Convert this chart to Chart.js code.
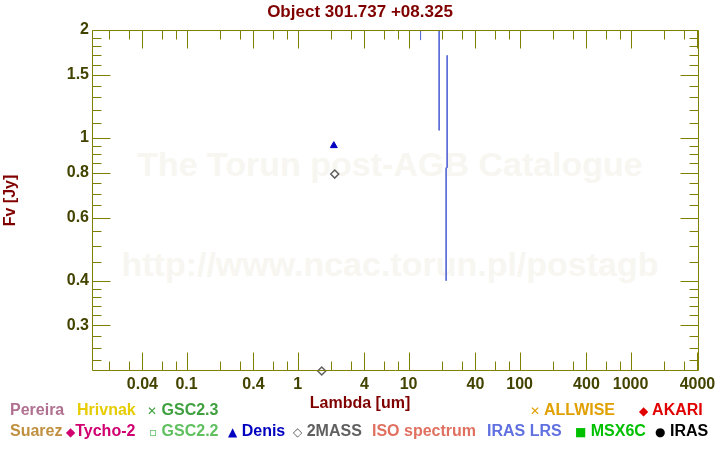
<!DOCTYPE html>
<html><head><meta charset="utf-8">
<script src="https://cdn.jsdelivr.net/npm/chart.js@4.4.0/dist/chart.umd.min.js"></script>
<style>
html,body{margin:0;padding:0;background:#fff;}
#wrap{position:relative;width:720px;height:450px;overflow:hidden;font-family:"Liberation Sans",Arial,sans-serif;font-weight:bold;}
#c{position:absolute;left:0;top:0;z-index:2;}
.wm{position:absolute;left:0;width:780px;text-align:center;z-index:1;color:#f8f6f1;font-size:34px;line-height:34px;white-space:nowrap;}
.lg{position:absolute;z-index:3;font-size:16px;line-height:16px;white-space:nowrap;}
.sym{font-family:"DejaVu Sans",sans-serif;font-size:12px;}
#xt{position:absolute;left:0;width:720px;text-align:center;top:394px;z-index:3;color:#800000;font-size:16px;line-height:18px;}
</style></head>
<body><div id="wrap">
<div class="wm" style="top:147px">The Torun post-AGB Catalogue</div>
<div class="wm" style="top:247px">http://www.ncac.torun.pl/postagb</div>
<canvas id="c" width="720" height="450"></canvas>
<div id="xt">Lambda [um]</div>
<div class="lg" style="left:10px;top:402px;color:#b07090">Pereira</div>
<div class="lg" style="left:77px;top:402px;color:#e6cc00">Hrivnak</div>
<div class="lg" style="left:147px;top:402px;color:#40a040"><span class="sym">✕</span> GSC2.3</div>
<div class="lg" style="left:530px;top:402px;color:#e0a000"><span class="sym">✕</span> ALLWISE</div>
<div class="lg" style="left:639px;top:402px;color:#e00000"><span class="sym">◆</span> AKARI</div>
<div class="lg" style="left:10px;top:423px;color:#c09040">Suarez</div>
<div class="lg" style="left:66px;top:423px;color:#d00070"><span class="sym">◆</span>Tycho-2</div>
<div class="lg" style="left:149px;top:423px;color:#60c060"><span class="sym">▫</span> GSC2.2</div>
<div class="lg" style="left:228px;top:423px;color:#0000c0"><span class="sym">▲</span> Denis</div>
<div class="lg" style="left:293px;top:423px;color:#606060"><span class="sym">◇</span> 2MASS</div>
<div class="lg" style="left:372px;top:423px;color:#e07060">ISO spectrum</div>
<div class="lg" style="left:487px;top:423px;color:#6070e0">IRAS LRS</div>
<div class="lg" style="left:575px;top:423px;color:#00c000"><span class="sym">■</span> MSX6C</div>
<div class="lg" style="left:655px;top:423px;color:#000000"><span class="sym">●</span> IRAS</div>
</div>
<script>
// ---- data ----
const denisLambda = [2.12];
const denisFlux = [0.952];
const twomassLambda = [1.65, 2.16];
const twomassFlux = [0.224, 0.793];
const lrsLambda = [12.81, 12.81, null, 18.85, 18.85, null, 22.25, 22.25, 21.79, 21.79];
const lrsFlux = [2.0, 1.875, null, 2.0, 1.05, null, 1.699, 0.826, 0.826, 0.40];
// ---- ticks ----
const xMajor = [0.04, 0.1, 0.4, 1, 4, 10, 40, 100, 400, 1000, 4000];
const xMinor = [0.02, 0.03, 0.06, 0.08, 0.2, 0.3, 0.6, 0.8, 2, 3, 6, 8, 20, 30, 60, 80, 200, 300, 600, 800, 2000, 3000];
const yMajor = [0.3, 0.4, 0.6, 0.8, 1, 1.5, 2];
const yMinor = [0.24, 0.26, 0.28, 0.32, 0.34, 0.36, 0.38, 0.45, 0.5, 0.55, 0.65, 0.7, 0.75, 0.85, 0.9, 0.95, 1.1, 1.2, 1.3, 1.4, 1.6, 1.7, 1.8, 1.9];

const FONT = '"Liberation Sans", Arial, sans-serif';
const OLIVE = '#808000';
const TICKCOL = '#434300';
const DARKRED = '#800000';

function pts(xs, ys) {
  return xs.map((x, i) => (x === null ? {x: NaN, y: null} : {x: x, y: ys[i]}));
}

const framePlugin = {
  id: 'frame',
  afterDraw(chart) {
    const {ctx, chartArea: a, scales: {x, y}} = chart;
    ctx.save();
    ctx.strokeStyle = OLIVE;
    ctx.lineWidth = 1;
    const L = Math.round(a.left) + 0.5, R = Math.round(a.right) - 0.5;
    const T = Math.round(a.top) + 0.5, B = Math.round(a.bottom) - 0.5;
    ctx.beginPath();
    ctx.rect(L, T, R - L, B - T);
    xMajor.concat(xMinor).forEach(v => {
      const len = xMajor.includes(v) ? 18 : 9;
      const p = Math.round(x.getPixelForValue(v)) + 0.5;
      ctx.moveTo(p, T); ctx.lineTo(p, T + len);
      ctx.moveTo(p, B); ctx.lineTo(p, B - len);
    });
    yMajor.concat(yMinor).forEach(v => {
      const len = yMajor.includes(v) ? 18 : 9;
      const p = Math.round(y.getPixelForValue(v)) + 0.5;
      ctx.moveTo(L, p); ctx.lineTo(L + len, p);
      ctx.moveTo(R, p); ctx.lineTo(R - len, p);
    });
    ctx.stroke();
    ctx.restore();
  }
};

new Chart(document.getElementById('c'), {
  type: 'scatter',
  data: {
    datasets: [
      {
        label: 'IRAS LRS',
        data: pts(lrsLambda, lrsFlux),
        showLine: true,
        spanGaps: false,
        borderColor: '#5a6ad8',
        borderWidth: 1,
        pointRadius: 0
      },
      {
        label: 'Denis',
        data: pts(denisLambda, denisFlux),
        pointStyle: 'triangle',
        pointRadius: 4,
        backgroundColor: '#0000c0',
        borderColor: '#0000c0',
        borderWidth: 1
      },
      {
        label: '2MASS',
        data: pts(twomassLambda, twomassFlux),
        pointStyle: 'rectRot',
        pointRadius: 4,
        backgroundColor: 'rgba(255,255,255,0)',
        borderColor: '#606060',
        borderWidth: 1.5,
        clip: false
      }
    ]
  },
  options: {
    responsive: false,
    animation: false,
    events: [],
    layout: {padding: {left: 0, right: 0, top: 0, bottom: 34}},
    plugins: {
      legend: {display: false},
      tooltip: {enabled: false},
      title: {
        display: true,
        text: 'Object 301.737 +08.325',
        color: DARKRED,
        font: {family: FONT, size: 17, weight: 'bold', lineHeight: 1},
        padding: {top: 4, bottom: 9}
      }
    },
    scales: {
      x: {
        type: 'logarithmic',
        min: 0.01406,
        max: 4130,
        grid: {display: false, drawTicks: false},
        border: {display: false},
        afterFit: s => { s.height = 45; },
        afterBuildTicks: s => { s.ticks = xMajor.map(v => ({value: v})); },
        ticks: {
          autoSkip: false, maxRotation: 0, minRotation: 0,
          padding: 4,
          color: TICKCOL,
          font: {family: FONT, size: 16, weight: 'bold'},
          callback: v => String(+v)
        },
        title: {display: false}
      },
      y: {
        type: 'logarithmic',
        min: 0.224,
        max: 2,
        grid: {display: false, drawTicks: false},
        border: {display: false},
        afterFit: s => { s.width = 92; },
        afterBuildTicks: s => { s.ticks = yMajor.map(v => ({value: v})); },
        ticks: {
          autoSkip: false,
          padding: 3,
          color: TICKCOL,
          font: {family: FONT, size: 16, weight: 'bold'},
          callback: v => String(+v)
        },
        title: {
          display: true, text: 'Fv [Jy]', color: DARKRED,
          font: {family: FONT, size: 16, weight: 'bold'},
          padding: {top: 1, bottom: 0}
        }
      },
      yRight: {
        type: 'linear',
        position: 'right',
        display: true,
        grid: {display: false, drawTicks: false},
        border: {display: false},
        ticks: {display: false},
        afterFit: s => { s.width = 21; }
      }
    }
  },
  plugins: [framePlugin]
});
</script>
</body></html>
